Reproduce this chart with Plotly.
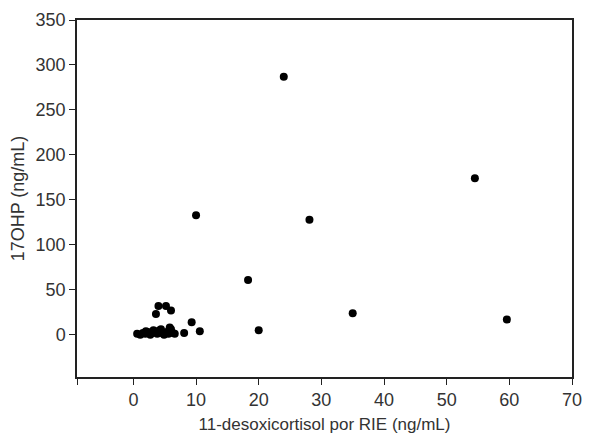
import plotly.graph_objects as go

# 11-desoxicortisol (ng/mL) vs 17OHP (ng/mL)
desoxi = [
    24.0, 54.5, 59.6, 28.1, 35.0, 18.3, 20.0, 10.0, 9.3, 10.6, 8.1,
    4.0, 5.2, 6.0, 3.6,
    0.6, 1.1, 1.5, 1.9, 2.3, 2.7, 3.0, 3.4, 3.8, 4.2, 4.5, 4.9, 5.3,
    5.6, 6.0, 6.3, 6.6, 2.0, 3.2, 4.4, 5.8,
]
ohp17 = [
    287, 174, 17, 128, 24, 61, 5, 133, 14, 4, 2,
    32, 32, 27, 23,
    1, 0, 2, 1, 3, 0, 2, 4, 1, 5, 2, 0, 3,
    1, 6, 2, 1, 4, 5, 6, 8,
]

x_ticks = [-9, 0, 10, 20, 30, 40, 50, 60, 70]
x_labels = ["", "0", "10", "20", "30", "40", "50", "60", "70"]
y_ticks = [0, 50, 100, 150, 200, 250, 300, 350]

font = "Liberation Sans, Arial, sans-serif"

fig = go.Figure(
    go.Scatter(
        x=desoxi, y=ohp17, mode="markers",
        marker=dict(size=8, color="black"),
        hoverinfo="x+y",
    )
)

fig.update_xaxes(
    range=[-9, 70], tickvals=x_ticks, ticktext=x_labels,
    showgrid=False, zeroline=False, automargin=False,
    showline=True, linecolor="#222", linewidth=1.5, mirror=True,
    ticks="outside", ticklen=6, tickcolor="#222",
    title=dict(text="11-desoxicortisol por RIE (ng/mL)", standoff=11,
               font=dict(size=17, color="#333")),
    tickfont=dict(size=18, color="#333"),
)
fig.update_yaxes(
    range=[-47, 350], tickvals=y_ticks,
    showgrid=False, zeroline=False, automargin=False,
    showline=True, linecolor="#222", linewidth=1.5, mirror=True,
    ticks="outside", ticklen=6, tickcolor="#222",
    title=dict(text="17OHP (ng/mL)", standoff=6,
               font=dict(size=18, color="#333")),
    tickfont=dict(size=18, color="#333"),
)

# page body has an 8px margin, so the figure is a bit smaller than the window
fig.update_layout(
    width=588, height=426,
    margin=dict(l=69, r=24, t=12, b=57),
    plot_bgcolor="white", paper_bgcolor="white",
    font=dict(family=font),
    showlegend=False,
)

fig.write_html("out.html")
